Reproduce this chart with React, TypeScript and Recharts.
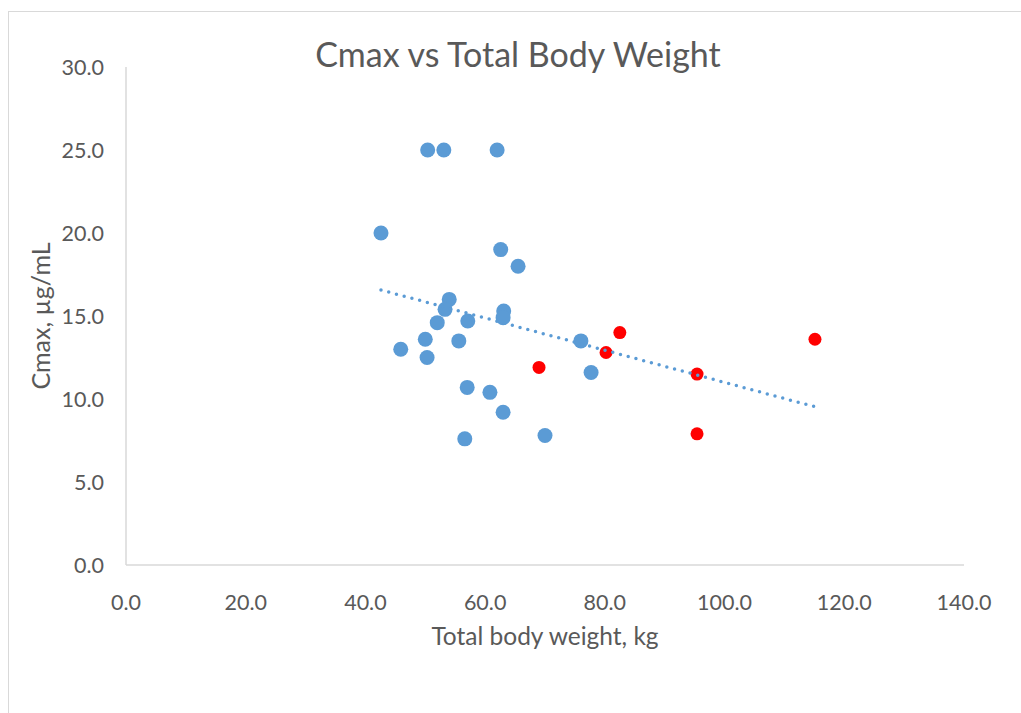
import React from 'react';
import { ScatterChart, Scatter, XAxis, YAxis } from 'recharts';

// body weight (kg) and Cmax (µg/mL)
const weightBlue = [50.4, 53.1, 62.0, 42.6, 62.6, 65.5, 54.0, 53.3, 52.0, 57.1, 63.1, 63.0, 50.0, 55.6, 45.9, 50.3, 57.0, 60.8, 63.0, 56.6, 70.0, 76.0, 77.7];
const cmaxBlue = [25.0, 25.0, 25.0, 20.0, 19.0, 18.0, 16.0, 15.4, 14.6, 14.7, 15.3, 14.9, 13.6, 13.5, 13.0, 12.5, 10.7, 10.4, 9.2, 7.6, 7.8, 13.5, 11.6];
const weightRed = [69.0, 80.2, 82.5, 95.4, 95.4, 115.1];
const cmaxRed = [11.9, 12.8, 14.0, 11.5, 7.9, 13.6];

const xTicks = [0, 20, 40, 60, 80, 100, 120, 140];
const yTicks = [0, 5, 10, 15, 20, 25, 30];

const BLUE = '#5B9BD5';
const RED = '#FF0000';
const TEXT = '#595959';
const FONT = 'Lato, "Open Sans", sans-serif';

const bluePts = weightBlue.map((x, i) => ({ x, y: cmaxBlue[i] }));
const redPts = weightRed.map((x, i) => ({ x, y: cmaxRed[i] }));

// linear trendline over all points
function trend() {
  const all = [...bluePts, ...redPts];
  const n = all.length;
  const mx = all.reduce((s, p) => s + p.x, 0) / n;
  const my = all.reduce((s, p) => s + p.y, 0) / n;
  let sxy = 0;
  let sxx = 0;
  all.forEach((p) => {
    sxy += (p.x - mx) * (p.y - my);
    sxx += (p.x - mx) * (p.x - mx);
  });
  const b = sxy / sxx;
  const a = my - b * mx;
  const x0 = Math.min(...all.map((p) => p.x));
  const x1 = Math.max(...all.map((p) => p.x));
  return [
    { x: x0, y: a + b * x0 },
    { x: x1, y: a + b * x1 },
  ];
}
const trendPts = trend();

const dot = (r: number, fill: string) => (props: any) => (
  <circle cx={props.cx} cy={props.cy} r={r} fill={fill} />
);

export default function App() {
  return (
    <div style={{ position: 'absolute', left: 0, top: 0, width: 1021, height: 713, overflow: 'hidden', background: '#fff', fontFamily: FONT }}>
      <div style={{ position: 'absolute', left: 8, top: 11, width: 1100, height: 800, border: '1px solid #D9D9D9' }} />
      <div style={{ position: 'absolute', left: 0, top: 0 }}>
        <ScatterChart width={1021} height={713} margin={{ top: 67, right: 57, left: 0, bottom: 0 }}>
          <XAxis
            type="number"
            dataKey="x"
            domain={[0, 140]}
            ticks={xTicks}
            tickFormatter={(v: number) => v.toFixed(1)}
            height={148}
            axisLine={{ stroke: '#D9D9D9', strokeWidth: 1.5 }}
            tickLine={false}
            tickMargin={24}
            tick={{ fill: TEXT, fontSize: 21.5, fontFamily: FONT }}
          />
          <YAxis
            type="number"
            dataKey="y"
            domain={[0, 30]}
            ticks={yTicks}
            tickFormatter={(v: number) => v.toFixed(1)}
            width={126}
            axisLine={{ stroke: '#D9D9D9', strokeWidth: 1.5 }}
            tickLine={false}
            tickMargin={16}
            tick={{ fill: TEXT, fontSize: 21.5, fontFamily: FONT }}
          />
          <Scatter data={bluePts} shape={dot(7.5, BLUE)} isAnimationActive={false} />
          <Scatter data={redPts} shape={dot(6.5, RED)} isAnimationActive={false} />
          <Scatter
            data={trendPts}
            line={{ stroke: BLUE, strokeWidth: 3.5, strokeDasharray: '0 8', strokeLinecap: 'round' }}
            shape={() => <g />}
            isAnimationActive={false}
          />
        </ScatterChart>
      </div>
      <div style={{ position: 'absolute', left: 218, width: 600, top: 32, textAlign: 'center', fontSize: 34, color: TEXT, lineHeight: '44px' }}>
        Cmax vs Total Body Weight
      </div>
      <div style={{ position: 'absolute', left: 245, width: 600, top: 621, textAlign: 'center', fontSize: 24.5, color: TEXT, lineHeight: '30px' }}>
        Total body weight, kg
      </div>
      <div
        style={{
          position: 'absolute',
          left: 40 - 150,
          top: 316 - 15,
          width: 300,
          textAlign: 'center',
          fontSize: 25,
          color: TEXT,
          lineHeight: '30px',
          transform: 'rotate(-90deg)',
        }}
      >
        Cmax, µg/mL
      </div>
    </div>
  );
}
